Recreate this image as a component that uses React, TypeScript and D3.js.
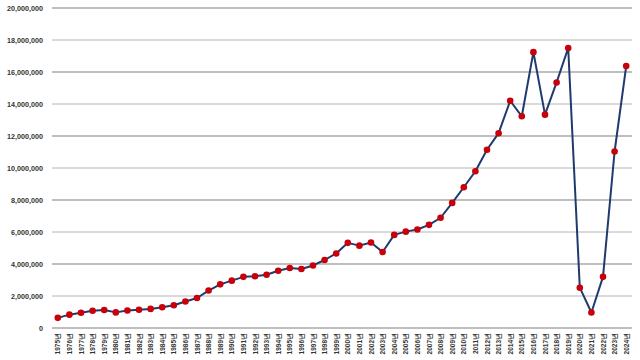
import React from "react";
import * as d3 from "d3";

const years: string[] = Array.from({ length: 50 }, (_, i) => `${1975 + i}년`);
const visitors: number[] = [
  632846, 834239, 949666, 1079396, 1126100, 976415, 1093214, 1145044, 1194551, 1297318,
  1426045, 1659972, 1874501, 2340462, 2728054, 2958839, 3196340, 3231081, 3331226, 3580024,
  3753197, 3683779, 3908140, 4250216, 4659785, 5321792, 5147204, 5347468, 4752762, 5818138,
  6022752, 6155046, 6448240, 6890841, 7817533, 8797658, 9794796, 11140028, 12175550, 14201516,
  13231651, 17241823, 13335758, 15346879, 17502756, 2519118, 967003, 3198017, 11031665, 16369629,
];
const yTicks: number[] = [0, 2000000, 4000000, 6000000, 8000000, 10000000, 12000000, 14000000, 16000000, 18000000, 20000000];

export default function App() {
  const W = 640, H = 360;
  const left = 52, right = 632, top = 8, bottom = 328;
  const x = d3.scaleBand<string>().domain(years).range([left, right]);
  const y = d3.scaleLinear().domain([0, 20000000]).range([bottom, top]);
  const fmt = d3.format(",");
  const line = d3
    .line<number>()
    .x((_, i) => (x(years[i]) as number) + x.bandwidth() / 2)
    .y((d) => y(d));
  return (
    <svg width={W} height={H} style={{ position: "absolute", left: 0, top: 0, background: "#fff" }}
      fontFamily="'Liberation Sans', Arial, sans-serif">
      {yTicks.map((t) => {
        const thick = t % 4000000 === 0;
        return (
          <g key={t}>
            <line x1={left} x2={right} y1={y(t)} y2={y(t)} stroke={thick ? "#a8a8a8" : "#b4b4b4"}
              strokeWidth={thick ? 1.6 : 1} />
            <text x={43} y={y(t)} dy="0.35em" textAnchor="end" fontSize={7.2} fontWeight="bold" fill="#333">
              {fmt(t)}
            </text>
          </g>
        );
      })}
      {years.map((yr) => {
        const cx = (x(yr) as number) + x.bandwidth() / 2;
        return (
          <text key={yr} transform={`translate(${cx + 2.5},${333}) rotate(-90)`} textAnchor="end"
            fontSize={6.5} fontWeight="bold" fill="#333">
            {yr}
          </text>
        );
      })}
      <path d={line(visitors) || ""} fill="none" stroke="#1f3a6e" strokeWidth={2} strokeLinejoin="round" />
      {visitors.map((v, i) => (
        <circle key={i} cx={(x(years[i]) as number) + x.bandwidth() / 2} cy={y(v)} r={3.3} fill="#c8000a" />
      ))}
    </svg>
  );
}
